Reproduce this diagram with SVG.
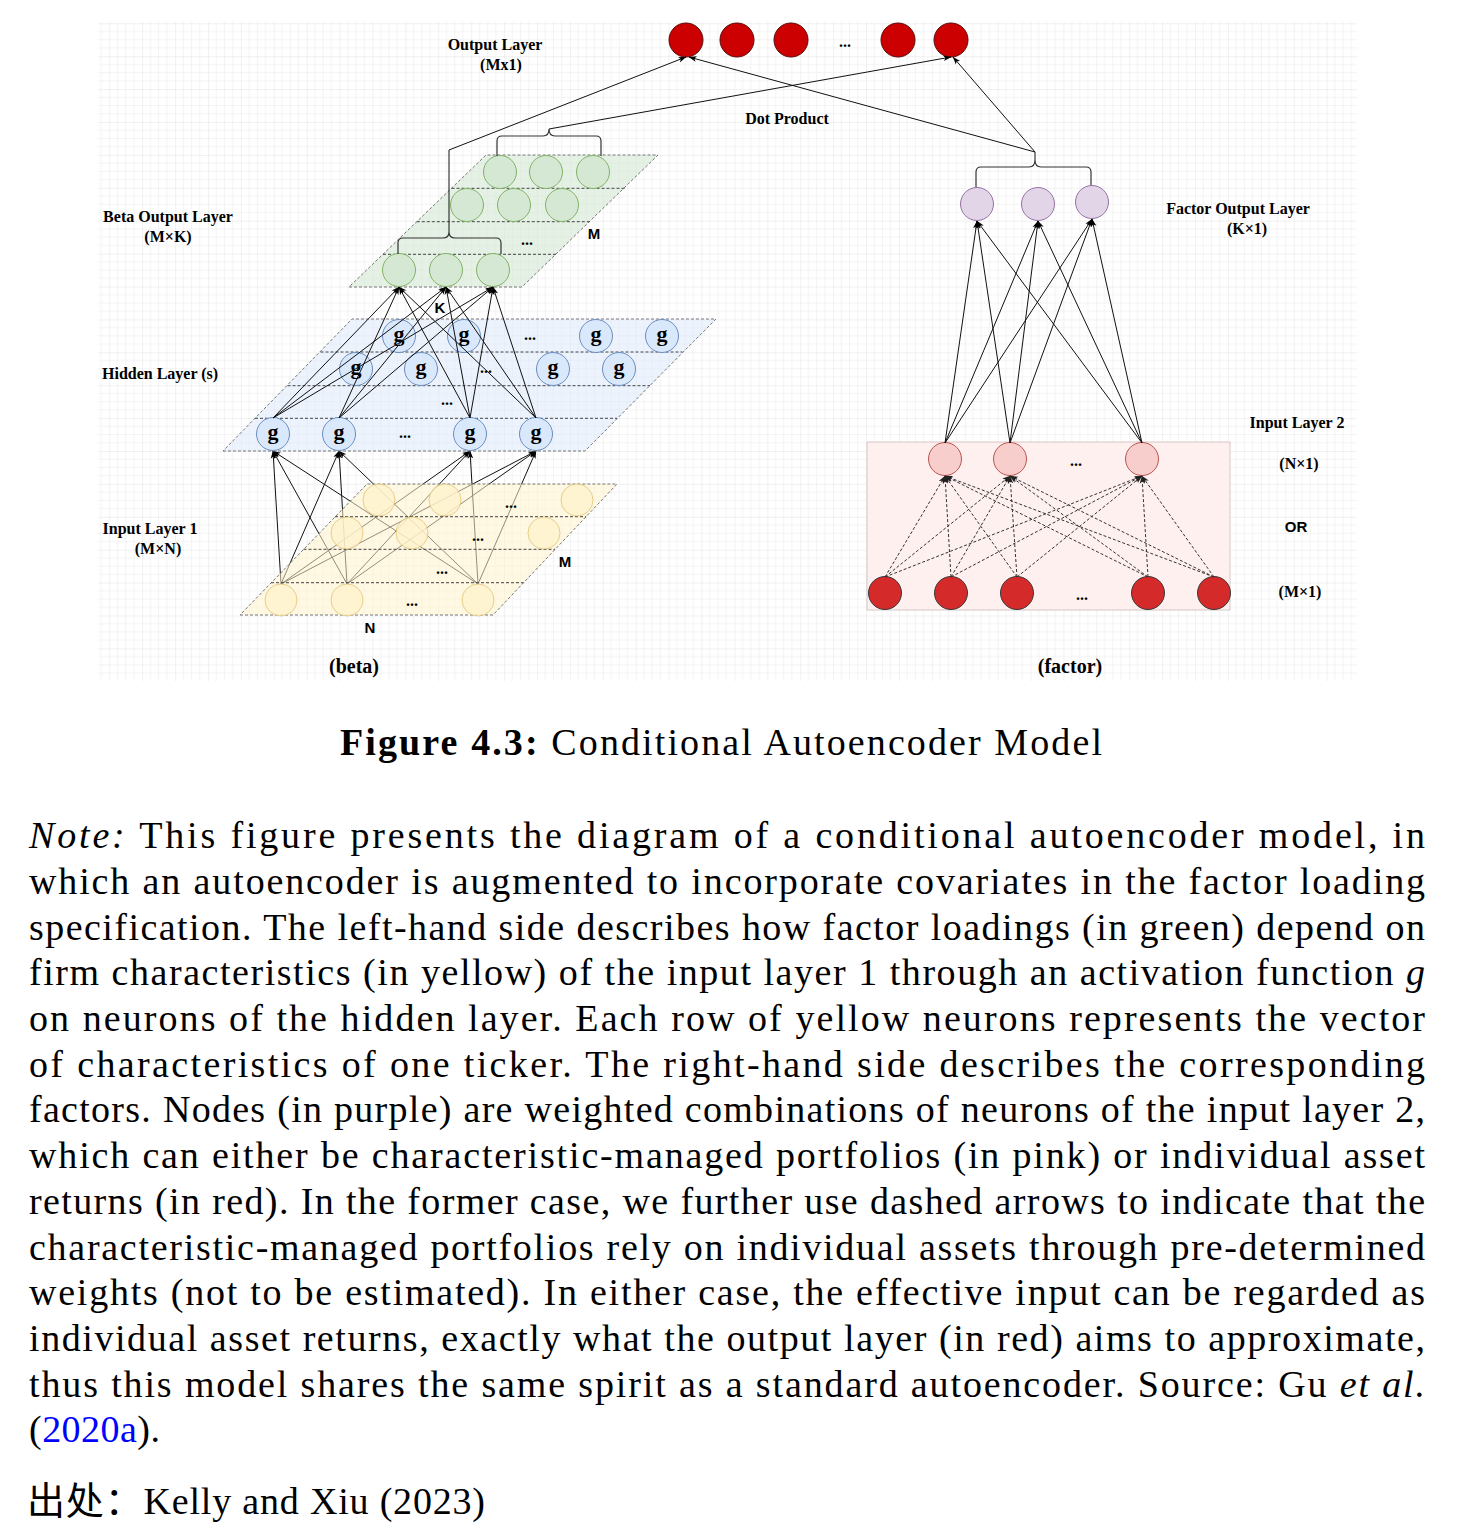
<svg xmlns="http://www.w3.org/2000/svg" width="1458" height="1531" viewBox="0 0 1458 1531">
<style>
.lbl{font-family:"Liberation Serif","Times New Roman",serif;font-weight:bold;font-size:16px;fill:#000}
.big{font-family:"Liberation Serif","Times New Roman",serif;font-weight:bold;font-size:20px;fill:#000}
.sans{font-family:"Liberation Sans",Arial,sans-serif;font-weight:bold;font-size:15px;fill:#000}
.dots{font-family:"Liberation Serif",serif;font-weight:bold;font-size:16px;fill:#000;text-anchor:middle}
.gt{font-family:"Liberation Serif",serif;font-weight:bold;font-size:22px;fill:#000;text-anchor:middle}
.edge{stroke:#111;stroke-width:1;fill:none;marker-end:url(#ah)}
.dedge{stroke:#333;stroke-width:1;stroke-dasharray:3 2;fill:none;marker-end:url(#ahd)}
.brace{stroke:#333;stroke-width:1.2;fill:none}
.plane{stroke:#777;stroke-width:1;stroke-dasharray:3 2}
.sep{stroke:#444;stroke-width:1;stroke-dasharray:3 2;fill:none}
.green{fill:#d5e8d4;stroke:#82b366;stroke-width:1}
.blue{fill:#dae8fc;stroke:#6c8ebf;stroke-width:1}
.yellow{fill:#fff2cc;fill-opacity:0.8;stroke:#d6b656;stroke-opacity:0.6;stroke-width:1}
.purple{fill:#e1d5e7;stroke:#9673a6;stroke-width:1}
.pink{fill:#f8cecc;stroke:#b85450;stroke-width:1}
.red{fill:#d42a2a;stroke:#3a3a3a;stroke-width:1}
.out{fill:#cc0000;stroke:#5a0a0a;stroke-width:1}
.body{font-family:"Liberation Serif","Times New Roman",serif;font-size:38px;fill:#000}
</style>
<defs>
<pattern id="grid" x="109.3" y="23.3" width="32.9" height="32.9" patternUnits="userSpaceOnUse">
<path d="M8.225 0V32.9M16.45 0V32.9M24.675 0V32.9M0 8.225H32.9M0 16.45H32.9M0 24.675H32.9" stroke="#f3f3f3" stroke-width="1" fill="none"/>
<path d="M0 0V32.9M0 0H32.9" stroke="#e4e4e4" stroke-width="1" fill="none"/>
</pattern>
<marker id="ah" viewBox="0 0 10 10" refX="9.5" refY="5" markerWidth="8" markerHeight="8" markerUnits="userSpaceOnUse" orient="auto"><path d="M0,1.5 L10,5 L0,8.5 L2.5,5 z" fill="#000"/></marker>
<marker id="ahd" viewBox="0 0 10 10" refX="9.5" refY="5" markerWidth="8" markerHeight="8" markerUnits="userSpaceOnUse" orient="auto"><path d="M0,1.5 L10,5 L0,8.5 L2.5,5 z" fill="#222"/></marker>
</defs>
<rect x="0" y="0" width="1458" height="1531" fill="#fff"/>
<rect x="98" y="22" width="1259" height="659" fill="url(#grid)"/>

<!-- yellow-to-hidden connectors (under the yellow plane) -->
<g id="connectors-input1">
<path class="edge" d="M281,584 L273,451"/><path class="edge" d="M281,584 L339,451"/><path class="edge" d="M281,584 L470,451"/><path class="edge" d="M281,584 L536,451"/>
<path class="edge" d="M347,584 L273,451"/><path class="edge" d="M347,584 L339,451"/><path class="edge" d="M347,584 L470,451"/><path class="edge" d="M347,584 L536,451"/>
<path class="edge" d="M478,584 L273,451"/><path class="edge" d="M478,584 L339,451"/><path class="edge" d="M478,584 L470,451"/><path class="edge" d="M478,584 L536,451"/>
</g>

<!-- Input layer 1 (yellow) -->
<g id="input-layer-1">
<polygon class="plane" points="240,615 493,615 617,484 367,484" fill="#fff2cc" fill-opacity="0.55"/>
<path class="sep" d="M335,516.7H586M303.5,549.3H555M271,582.7H523.5"/>
<g id="y-r1-1"><circle class="yellow" cx="379" cy="500" r="16"/></g>
<g id="y-r1-2"><circle class="yellow" cx="445" cy="500" r="16"/></g>
<g id="y-r1-3"><circle class="yellow" cx="577" cy="500" r="16"/></g>
<text class="dots" x="511" y="508">...</text>
<g id="y-r2-1"><circle class="yellow" cx="347" cy="533" r="16"/></g>
<g id="y-r2-2"><circle class="yellow" cx="412" cy="533" r="16"/></g>
<g id="y-r2-3"><circle class="yellow" cx="544" cy="533" r="16"/></g>
<text class="dots" x="478" y="541">...</text>
<text class="dots" x="442" y="574">...</text>
<g id="y-r4-1"><circle class="yellow" cx="281" cy="600" r="16"/></g>
<g id="y-r4-2"><circle class="yellow" cx="347" cy="600" r="16"/></g>
<g id="y-r4-3"><circle class="yellow" cx="478" cy="600" r="16"/></g>
<text class="dots" x="412" y="606">...</text>
<text class="sans" x="565" y="567" text-anchor="middle">M</text>
<text class="sans" x="370" y="633" text-anchor="middle">N</text>
</g>

<!-- Hidden layer (blue) -->
<g id="hidden-layer">
<polygon class="plane" points="223,451 585,451 716,319 352,319" fill="#dae8fc" fill-opacity="0.5"/>
<path class="sep" d="M320.5,352H682.5M287.5,385.7H650M255,418.3H617"/>
<g id="h-r1-1"><circle class="blue" cx="399" cy="336" r="16.5"/><text class="gt" x="399" y="341">g</text></g>
<g id="h-r1-2"><circle class="blue" cx="464" cy="336" r="16.5"/><text class="gt" x="464" y="341">g</text></g>
<g id="h-r1-3"><circle class="blue" cx="596" cy="336" r="16.5"/><text class="gt" x="596" y="341">g</text></g>
<g id="h-r1-4"><circle class="blue" cx="662" cy="336" r="16.5"/><text class="gt" x="662" y="341">g</text></g>
<text class="dots" x="530" y="340">...</text>
<g id="h-r2-1"><circle class="blue" cx="356" cy="369" r="16.5"/><text class="gt" x="356" y="374">g</text></g>
<g id="h-r2-2"><circle class="blue" cx="421" cy="369" r="16.5"/><text class="gt" x="421" y="374">g</text></g>
<g id="h-r2-3"><circle class="blue" cx="553" cy="369" r="16.5"/><text class="gt" x="553" y="374">g</text></g>
<g id="h-r2-4"><circle class="blue" cx="619" cy="369" r="16.5"/><text class="gt" x="619" y="374">g</text></g>
<text class="dots" x="486" y="373">...</text>
<text class="dots" x="447" y="405">...</text>
<g id="h-r4-1"><circle class="blue" cx="273" cy="434" r="16.5"/><text class="gt" x="273" y="439">g</text></g>
<g id="h-r4-2"><circle class="blue" cx="339" cy="434" r="16.5"/><text class="gt" x="339" y="439">g</text></g>
<g id="h-r4-3"><circle class="blue" cx="470" cy="434" r="16.5"/><text class="gt" x="470" y="439">g</text></g>
<g id="h-r4-4"><circle class="blue" cx="536" cy="434" r="16.5"/><text class="gt" x="536" y="439">g</text></g>
<text class="dots" x="405" y="438">...</text>
</g>

<!-- Beta output layer (green) -->
<g id="beta-output-layer">
<polygon class="plane" points="349,287 522,287 658,155 486,155" fill="#d5e8d4" fill-opacity="0.6"/>
<path class="sep" d="M451.5,188.3H624.5M416.8,221.7H589.8M383,254.3H556"/>
<g id="b-r1-1"><circle class="green" cx="500" cy="172" r="16.5"/></g>
<g id="b-r1-2"><circle class="green" cx="546" cy="172" r="16.5"/></g>
<g id="b-r1-3"><circle class="green" cx="593" cy="172" r="16.5"/></g>
<g id="b-r2-1"><circle class="green" cx="467" cy="205" r="16.5"/></g>
<g id="b-r2-2"><circle class="green" cx="514" cy="205" r="16.5"/></g>
<g id="b-r2-3"><circle class="green" cx="562" cy="205" r="16.5"/></g>
<text class="dots" x="527" y="245">...</text>
<g id="b-r4-1"><circle class="green" cx="399" cy="270" r="16.5"/></g>
<g id="b-r4-2"><circle class="green" cx="446" cy="270" r="16.5"/></g>
<g id="b-r4-3"><circle class="green" cx="493" cy="270" r="16.5"/></g>
<text class="sans" x="594" y="239" text-anchor="middle">M</text>
<text class="sans" x="440" y="313" text-anchor="middle">K</text>
</g>

<!-- Output layer (red, top) -->
<g id="output-layer">
<g id="o-1"><circle class="out" cx="686" cy="40" r="17"/></g>
<g id="o-2"><circle class="out" cx="737" cy="40" r="17"/></g>
<g id="o-3"><circle class="out" cx="791" cy="40" r="17"/></g>
<text class="dots" x="845" y="47">...</text>
<g id="o-4"><circle class="out" cx="898" cy="40" r="17"/></g>
<g id="o-5"><circle class="out" cx="951" cy="40" r="17"/></g>
</g>

<!-- Input layer 2 (pink box) -->
<g id="input-layer-2">
<rect x="867" y="442" width="363" height="168" fill="#fdf0ef" stroke="#d8c6c6" stroke-width="1"/>
<g id="p-1"><circle class="pink" cx="945" cy="459" r="16.5"/></g>
<g id="p-2"><circle class="pink" cx="1010" cy="459" r="16.5"/></g>
<g id="p-3"><circle class="pink" cx="1142" cy="459" r="16.5"/></g>
<text class="dots" x="1076" y="466">...</text>
<g id="r-1"><circle class="red" cx="885" cy="593" r="16.5"/></g>
<g id="r-2"><circle class="red" cx="951" cy="593" r="16.5"/></g>
<g id="r-3"><circle class="red" cx="1017" cy="593" r="16.5"/></g>
<text class="dots" x="1082" y="600">...</text>
<g id="r-4"><circle class="red" cx="1148" cy="593" r="16.5"/></g>
<g id="r-5"><circle class="red" cx="1214" cy="593" r="16.5"/></g>
</g>

<!-- Factor output layer (purple) -->
<g id="factor-output-layer">
<g id="f-1"><circle class="purple" cx="977" cy="204" r="16.5"/></g>
<g id="f-2"><circle class="purple" cx="1038" cy="204" r="16.5"/></g>
<g id="f-3"><circle class="purple" cx="1092" cy="202" r="16.5"/></g>
</g>

<!-- connectors -->
<g id="connectors">
<path class="edge" d="M273,418 L399,287"/><path class="edge" d="M273,418 L446,287"/><path class="edge" d="M273,418 L493,287"/>
<path class="edge" d="M339,418 L399,287"/><path class="edge" d="M339,418 L446,287"/><path class="edge" d="M339,418 L493,287"/>
<path class="edge" d="M470,418 L399,287"/><path class="edge" d="M470,418 L446,287"/><path class="edge" d="M470,418 L493,287"/>
<path class="edge" d="M536,418 L399,287"/><path class="edge" d="M536,418 L446,287"/><path class="edge" d="M536,418 L493,287"/>
<path class="edge" d="M945,443 L977,221"/><path class="edge" d="M945,443 L1038,221"/><path class="edge" d="M945,443 L1092,219"/>
<path class="edge" d="M1010,443 L977,221"/><path class="edge" d="M1010,443 L1038,221"/><path class="edge" d="M1010,443 L1092,219"/>
<path class="edge" d="M1142,443 L977,221"/><path class="edge" d="M1142,443 L1038,221"/><path class="edge" d="M1142,443 L1092,219"/>
<path class="dedge" d="M885,577 L945,476"/><path class="dedge" d="M885,577 L1010,476"/><path class="dedge" d="M885,577 L1142,476"/>
<path class="dedge" d="M951,577 L945,476"/><path class="dedge" d="M951,577 L1010,476"/><path class="dedge" d="M951,577 L1142,476"/>
<path class="dedge" d="M1017,577 L945,476"/><path class="dedge" d="M1017,577 L1010,476"/><path class="dedge" d="M1017,577 L1142,476"/>
<path class="dedge" d="M1148,577 L945,476"/><path class="dedge" d="M1148,577 L1010,476"/><path class="dedge" d="M1148,577 L1142,476"/>
<path class="dedge" d="M1214,577 L945,476"/><path class="dedge" d="M1214,577 L1010,476"/><path class="dedge" d="M1214,577 L1142,476"/>
<path class="brace" d="M398,254 V243 Q398,238 403,238 H443 Q449,238 449,232 Q449,238 455,238 H496 Q501,238 501,243 V254"/>
<path class="brace" d="M497,156 V141 Q497,136 502,136 H543 Q549,136 549,129 Q549,136 555,136 H596 Q601,136 601,141 V156"/>
<path class="brace" d="M976,187 V172 Q976,167 981,167 H1029 Q1035,167 1035,160 Q1035,167 1041,167 H1086 Q1091,167 1091,172 V185"/>
<path class="edge" d="M449,232 V150 L686,57"/>
<path class="edge" d="M549,129 L951,57"/>
<path class="edge" d="M1035,160 V152 L689,57"/>
<path class="edge" d="M1035,152 L953,57"/>
</g>

<!-- labels -->
<g id="labels">
<text class="lbl" x="495" y="50" text-anchor="middle">Output Layer</text>
<text class="lbl" x="501" y="70" text-anchor="middle">(Mx1)</text>
<text class="lbl" x="787" y="124" text-anchor="middle">Dot Product</text>
<text class="lbl" x="168" y="222" text-anchor="middle">Beta Output Layer</text>
<text class="lbl" x="168" y="242" text-anchor="middle">(M×K)</text>
<text class="lbl" x="102" y="379">Hidden Layer (s)</text>
<text class="lbl" x="150" y="534" text-anchor="middle">Input Layer 1</text>
<text class="lbl" x="158" y="554" text-anchor="middle">(M×N)</text>
<text class="lbl" x="1238" y="214" text-anchor="middle">Factor Output Layer</text>
<text class="lbl" x="1247" y="234" text-anchor="middle">(K×1)</text>
<text class="lbl" x="1297" y="428" text-anchor="middle">Input Layer 2</text>
<text class="lbl" x="1299" y="469" text-anchor="middle">(N×1)</text>
<text class="sans" x="1296" y="532" text-anchor="middle">OR</text>
<text class="lbl" x="1300" y="597" text-anchor="middle">(M×1)</text>
<text class="big" x="354" y="673" text-anchor="middle">(beta)</text>
<text class="big" x="1070" y="673" text-anchor="middle">(factor)</text>
</g>

<!-- caption and note -->
<g id="caption">
<text class="body" x="340" y="755" textLength="762" lengthAdjust="spacing"><tspan font-weight="bold">Figure 4.3:</tspan> Conditional Autoencoder Model</text>
<text class="body" x="29" y="848" textLength="1396" lengthAdjust="spacing"><tspan font-style="italic">Note:</tspan> This figure presents the diagram of a conditional autoencoder model, in</text>
<text class="body" x="29" y="894" textLength="1396" lengthAdjust="spacing">which an autoencoder is augmented to incorporate covariates in the factor loading</text>
<text class="body" x="29" y="940" textLength="1396" lengthAdjust="spacing">specification. The left-hand side describes how factor loadings (in green) depend on</text>
<text class="body" x="29" y="985" textLength="1396" lengthAdjust="spacing">firm characteristics (in yellow) of the input layer 1 through an activation function <tspan font-style="italic">g</tspan></text>
<text class="body" x="29" y="1031" textLength="1396" lengthAdjust="spacing">on neurons of the hidden layer. Each row of yellow neurons represents the vector</text>
<text class="body" x="29" y="1077" textLength="1396" lengthAdjust="spacing">of characteristics of one ticker. The right-hand side describes the corresponding</text>
<text class="body" x="29" y="1122" textLength="1396" lengthAdjust="spacing">factors. Nodes (in purple) are weighted combinations of neurons of the input layer 2,</text>
<text class="body" x="29" y="1168" textLength="1396" lengthAdjust="spacing">which can either be characteristic-managed portfolios (in pink) or individual asset</text>
<text class="body" x="29" y="1214" textLength="1396" lengthAdjust="spacing">returns (in red). In the former case, we further use dashed arrows to indicate that the</text>
<text class="body" x="29" y="1260" textLength="1396" lengthAdjust="spacing">characteristic-managed portfolios rely on individual assets through pre-determined</text>
<text class="body" x="29" y="1305" textLength="1396" lengthAdjust="spacing">weights (not to be estimated). In either case, the effective input can be regarded as</text>
<text class="body" x="29" y="1351" textLength="1396" lengthAdjust="spacing">individual asset returns, exactly what the output layer (in red) aims to approximate,</text>
<text class="body" x="29" y="1397" textLength="1396" lengthAdjust="spacing">thus this model shares the same spirit as a standard autoencoder. Source: Gu <tspan font-style="italic">et al.</tspan></text>
<text class="body" x="29" y="1442" textLength="131" lengthAdjust="spacing">(<tspan fill="#0000ff">2020a</tspan>).</text>
<text class="body" x="27" y="1514" style="font-family:'Liberation Serif','Noto Sans CJK SC',serif" textLength="458" lengthAdjust="spacing">出处：Kelly and Xiu (2023)</text>
</g>
</svg>
